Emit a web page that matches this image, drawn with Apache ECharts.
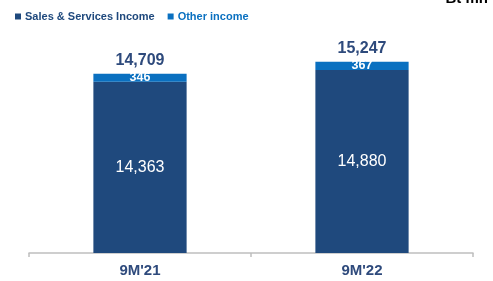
<!DOCTYPE html>
<html><head><meta charset="utf-8">
<script src="https://cdn.jsdelivr.net/npm/echarts@6/dist/echarts.min.js"></script>
<style>html,body{margin:0;padding:0;background:#fff}#c{width:493px;height:281px}</style>
</head><body><div id="c"></div>
<script>
var categories = ["9M'21", "9M'22"];
var salesIncome = [14363, 14880];
var otherIncome = [346, 367];
var totals = [14709, 15247];
var totalLabels = ["14,709", "15,247"];
var salesLabels = ["14,363", "14,880"];

var chart = echarts.init(document.getElementById('c'));
var font = 'Liberation Sans, Arial, sans-serif';
var navy = '#1f497d', blue = '#0a70c0';
chart.setOption({
  animation: false,
  textStyle: { fontFamily: font },
  grid: { left: 29, right: 20, top: 31, bottom: 28 },
  legend: {
    data: [
      { name: 'Sales & Services Income', textStyle: { color: navy } },
      { name: 'Other income', textStyle: { color: blue } }
    ],
    left: 10, top: 6, itemWidth: 6, itemHeight: 6, itemGap: 13,
    icon: 'rect',
    textStyle: { fontSize: 11, fontWeight: 'bold', fontFamily: font, padding: [0, 0, 0, -1] }
  },
  graphic: [{ type: 'text', right: 5, top: -9, style: { text: 'Bt mn', font: 'bold 15px ' + font, fill: '#000' } }],
  xAxis: {
    type: 'category', data: categories,
    axisLine: { lineStyle: { color: '#bfbfbf', width: 1.5 } },
    axisTick: { show: true, length: 4, lineStyle: { color: '#bfbfbf', width: 1.5 } },
    axisLabel: { margin: 10, fontSize: 15, fontWeight: 'bold', color: '#2e4a7c', fontFamily: font }
  },
  yAxis: { type: 'value', min: 6800, max: 16600, show: false, splitLine: { show: false } },
  series: [
    {
      name: 'Sales & Services Income', type: 'bar', stack: 't', barWidth: '42%',
      data: salesIncome, itemStyle: { color: navy },
      label: { show: true, position: 'inside', color: '#fff', fontSize: 16, fontFamily: font,
        formatter: function (p) { return salesLabels[p.dataIndex]; } }
    },
    {
      name: 'Other income', type: 'bar', stack: 't',
      data: otherIncome, itemStyle: { color: blue },
      label: { show: true, position: 'inside', color: '#fff', fontSize: 12.5, fontWeight: 'bold', fontFamily: font }
    },
    {
      name: 'total', type: 'bar', stack: 't',
      data: [0, 0], itemStyle: { color: 'rgba(0,0,0,0)' },
      label: { show: true, position: 'top', distance: 5, color: '#2e4a7c', fontSize: 16, fontWeight: 'bold', fontFamily: font,
        formatter: function (p) { return totalLabels[p.dataIndex]; } }
    }
  ]
});
</script></body></html>
